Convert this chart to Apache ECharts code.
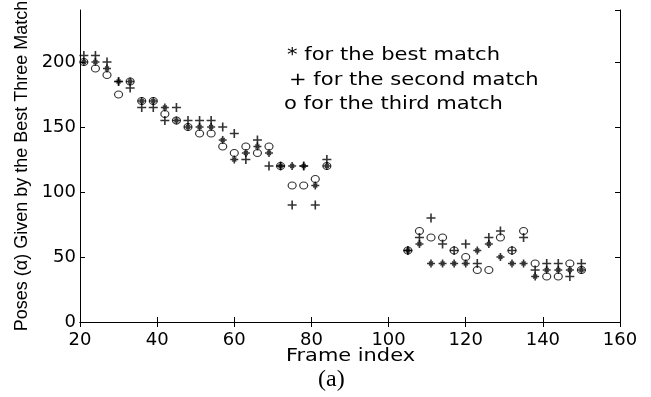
<!DOCTYPE html>
<html>
<head>
<meta charset="utf-8">
<script src="https://cdn.jsdelivr.net/npm/echarts@6/dist/echarts.min.js"></script>
<style>
  html, body { margin: 0; padding: 0; background: #fff; }
  #chart { width: 651px; height: 397px; }
</style>
</head>
<body>
<div id="chart"></div>
<script>
// frame numbers (two runs of the sequence)
const frames = [21, 24, 27, 30, 33, 36, 39, 42, 45, 48, 51, 54, 57, 60, 63, 66, 69, 72, 75, 78, 81, 84,
    105, 108, 111, 114, 117, 120, 123, 126, 129, 132, 135, 138, 141, 144, 147, 150];
// pose given by best / second / third match
const bestMatch = [200, 200, 195, 185, 185, 170, 170, 165, 155, 150, 150, 150, 140, 125, 130, 135, 130, 120, 120, 120, 105, 120,
    55, 60, 45, 45, 45, 45, 55, 60, 50, 45, 45, 35, 40, 40, 40, 40];
const secondMatch = [205, 205, 200, 185, 180, 165, 165, 155, 165, 155, 155, 155, 150, 145, 125, 140, 120, 120, 90, 120, 90, 125,
    55, 65, 80, 60, 55, 60, 45, 65, 70, 55, 65, 40, 45, 45, 35, 45];
const thirdMatch = [200, 195, 190, 175, 185, 170, 170, 160, 155, 150, 145, 145, 135, 130, 135, 130, 135, 120, 105, 105, 110, 120,
    55, 70, 65, 65, 55, 50, 40, 40, 65, 55, 70, 45, 35, 35, 45, 40];
const notes = ['* for the best match', '+ for the second match', 'o for the third match'];

const plusPath = 'path://M4.1,0H5.9V4.1H10V5.9H5.9V10H4.1V5.9H0V4.1H4.1Z';
const starPath = 'path://M4,0H6V10H4Z M0,4H10V6H0Z M2,3L3,2L8,7L7,8Z M7,2L8,3L3,8L2,7Z';

function pairs(vals) {
    return frames.map((f, i) => [f, vals[i]]);
}

const chart = echarts.init(document.getElementById('chart'));
const labelFont = {color: '#000', fontFamily: 'DejaVu Sans', fontSize: 18};

const option = {
    animation: false,
    grid: {left: 80, right: 31, top: 10, bottom: 75, outerBoundsMode: 'none'},
    xAxis: [{
        type: 'value', min: 20, max: 160, interval: 20,
        axisLine: {lineStyle: {color: '#000', width: 1}},
        axisTick: {inside: true, length: 5, lineStyle: {color: '#000'}},
        axisLabel: Object.assign({margin: 9}, labelFont),
        splitLine: {show: false}
    }, {
        type: 'value', min: 20, max: 160, interval: 20, position: 'top',
        axisLine: {lineStyle: {color: '#000', width: 1}},
        axisTick: {inside: true, length: 5, lineStyle: {color: '#000'}},
        axisLabel: {show: false},
        splitLine: {show: false}
    }],
    yAxis: [{
        type: 'value', min: 0, max: 240, interval: 50,
        name: 'Poses (\u03b1) Given by the Best Three Match', nameLocation: 'middle', nameGap: 46,
        nameRotate: 90,
        nameTextStyle: {color: '#000', fontFamily: 'Liberation Sans', fontSize: 18},
        axisLine: {lineStyle: {color: '#000', width: 1}},
        axisTick: {inside: true, length: 5, lineStyle: {color: '#000'}},
        axisLabel: Object.assign({margin: 4, showMaxLabel: false}, labelFont),
        splitLine: {show: false}
    }, {
        type: 'value', min: 0, max: 240, interval: 50, position: 'right',
        axisLine: {lineStyle: {color: '#000', width: 1}},
        axisTick: {inside: true, length: 5, lineStyle: {color: '#000'}},
        axisLabel: {show: false},
        splitLine: {show: false}
    }],
    series: [{
        name: 'third', type: 'scatter', symbol: 'circle', symbolSize: [8, 7],
        itemStyle: {color: 'rgba(0,0,0,0)', borderColor: '#000', borderWidth: 1.1},
        data: pairs(thirdMatch)
    }, {
        name: 'second', type: 'scatter', symbol: plusPath, symbolSize: 9,
        itemStyle: {color: '#000'},
        data: pairs(secondMatch)
    }, {
        name: 'best', type: 'scatter', symbol: starPath, symbolSize: 8,
        itemStyle: {color: '#000'},
        data: pairs(bestMatch)
    }],
    graphic: [
        {type: 'text', x: 287, y: 46, scaleX: 1.17, style: {text: notes[0], fill: '#000', font: '18px "DejaVu Sans"'}},
        {type: 'text', x: 289, y: 71, scaleX: 1.17, style: {text: notes[1], fill: '#000', font: '18px "DejaVu Sans"'}},
        {type: 'text', x: 284, y: 95, scaleX: 1.17, style: {text: notes[2], fill: '#000', font: '18px "DejaVu Sans"'}},
        // x axis title
        {type: 'text', x: 286, y: 348, scaleX: 1.23, style: {text: 'Frame index', fill: '#000', font: '17px "DejaVu Sans"'}},
        {type: 'text', x: 318, y: 368, style: {text: '(a)', fill: '#000', font: '24px "Liberation Serif"'}}
    ]
};
chart.setOption(option);
</script>
</body>
</html>
